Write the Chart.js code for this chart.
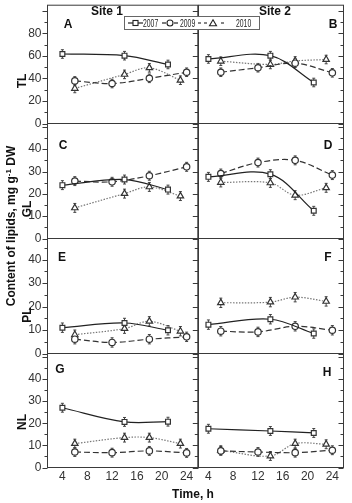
<!DOCTYPE html>
<html><head><meta charset="utf-8">
<script src="https://cdn.jsdelivr.net/npm/chart.js@4.4.1/dist/chart.umd.min.js"></script>
<style>
html,body{margin:0;padding:0;background:#fff;}
#wrap{position:relative;width:352px;height:503px;overflow:hidden;font-family:"Liberation Sans",Arial,sans-serif;}
canvas{position:absolute;}
.lbl{position:absolute;font-weight:bold;font-size:12px;color:#111;white-space:nowrap;line-height:1;z-index:4;}
.ctr{transform:translate(-50%,-50%);}
.rot{transform:translate(-50%,-50%) rotate(-90deg);}
#legend{position:absolute;left:124px;top:16px;width:134px;height:12px;border:1px solid #666;background:#fff;z-index:5;}
#legend svg{position:absolute;top:0;}
#legend span{position:absolute;top:0;font-family:"Liberation Sans",Arial,sans-serif;font-size:11px;line-height:12px;color:#222;transform:scaleX(0.62);transform-origin:left center;}
</style></head><body><div id="wrap">
<div class="lbl ctr" style="left:107px;top:11px">Site 1</div>
<div class="lbl ctr" style="left:275px;top:11px">Site 2</div>
<div class="lbl ctr" style="left:68px;top:24px">A</div>
<div class="lbl ctr" style="left:333px;top:24px">B</div>
<div class="lbl ctr" style="left:63px;top:145px">C</div>
<div class="lbl ctr" style="left:328px;top:145px">D</div>
<div class="lbl ctr" style="left:62px;top:257px">E</div>
<div class="lbl ctr" style="left:328px;top:257px">F</div>
<div class="lbl ctr" style="left:60px;top:369px">G</div>
<div class="lbl ctr" style="left:327px;top:372px">H</div>
<div class="lbl rot" style="left:22px;top:81px">TL</div>
<div class="lbl rot" style="left:27px;top:209px">GL</div>
<div class="lbl rot" style="left:27px;top:315px">PL</div>
<div class="lbl rot" style="left:22px;top:422px">NL</div>
<div class="lbl rot" style="left:11px;top:226px">Content of lipids, mg g<sup style="font-size:8px;vertical-align:4px">-1</sup> DW</div>
<div class="lbl ctr" style="left:193px;top:494px">Time, h</div>
<div id="legend">
 <svg style="left:3px" width="15" height="12"><line x1="0" y1="6" x2="15" y2="6" stroke="#222" stroke-width="1.2"/><rect x="5" y="3.5" width="5" height="5" fill="#fff" stroke="#222" stroke-width="1.1"/></svg>
 <span style="left:18px">2007</span>
 <svg style="left:36px" width="18" height="12"><line x1="1" y1="6" x2="5" y2="6" stroke="#222" stroke-width="1.2"/><line x1="13" y1="6" x2="17" y2="6" stroke="#222" stroke-width="1.2"/><circle cx="9" cy="6" r="3" fill="#fff" stroke="#222" stroke-width="1.1"/></svg>
 <span style="left:55px">2009</span>
 <svg style="left:72px" width="38" height="12"><line x1="1" y1="6" x2="4" y2="6" stroke="#333" stroke-width="1.2"/><line x1="7" y1="6" x2="10" y2="6" stroke="#333" stroke-width="1.2"/><polygon points="16,2.8 19.5,8.8 12.5,8.8" fill="#fff" stroke="#222" stroke-width="1.1"/><line x1="24" y1="6" x2="27" y2="6" stroke="#333" stroke-width="1.2"/></svg>
 <span style="left:111px">2010</span>
</div>
</div>
<script>
// sampling times (h)
const TIME_2007 = [4, 14, 21];
const TIME_2009 = [6, 12, 18, 24];
const TIME_2010 = [6, 14, 18, 23];

// Total lipids
const TL_S1_2007 = [61.7, 60.2, 52.4];
const TL_S1_2009 = [37.8, 35.5, 40.1, 45.5];
const TL_S1_2010 = [31.1, 43.6, 49.4, 38.4];
const TL_S2_2007 = [57.3, 60.2, 36.4];
const TL_S2_2009 = [45.5, 49.5, 53.5, 45.0];
const TL_S2_2010 = [55.3, 52.4, 55.5, 56.8];
// Glycolipids
const GL_S1_2007 = [23.9, 26.4, 21.9];
const GL_S1_2009 = [25.7, 25.4, 28.1, 32.1];
const GL_S1_2010 = [13.7, 20.1, 23.1, 19.0];
const GL_S2_2007 = [27.6, 28.8, 12.4];
const GL_S2_2009 = [29.1, 34.0, 35.0, 28.4];
const GL_S2_2010 = [25.1, 24.9, 19.4, 22.7];
// Phospholipids
const PL_S1_2007 = [11.0, 13.0, 9.9];
const PL_S1_2009 = [6.1, 4.7, 6.1, 7.1];
const PL_S1_2010 = [8.0, 10.6, 13.7, 9.5];
const PL_S2_2007 = [12.3, 14.6, 8.5];
const PL_S2_2009 = [9.5, 9.2, 11.6, 9.9];
const PL_S2_2010 = [21.6, 21.9, 24.0, 22.2];
// Neutral lipids
const NL_S1_2007 = [27.0, 20.6, 20.7];
const NL_S1_2009 = [7.0, 6.7, 7.5, 6.6];
const NL_S1_2010 = [10.8, 13.5, 13.5, 10.8];
const NL_S2_2007 = [17.5, 16.5, 15.6];
const NL_S2_2009 = [7.5, 7.0, 6.7, 7.8];
const NL_S2_2010 = [7.8, 5.2, 10.8, 10.5];

// error bar half-widths (mg/g DW) per lipid class
const ERR_TL = 3.8, ERR_GL = 2.0, ERR_PL = 2.0, ERR_NL = 2.0;

// axis ticks
const X_TICKS = [4, 8, 12, 16, 20, 24];
const Y_TICKS_TL = [0, 10, 20, 30, 40, 50, 60, 70, 80, 90, 100];
const Y_LABELS_TL = [0, 20, 40, 60, 80];
const Y_TICKS_SUB = [0, 5, 10, 15, 20, 25, 30, 35, 40, 45, 50];
const Y_LABELS_SUB = [0, 10, 20, 30, 40];
const YEARS = ['2007', '2009', '2010'];

const panels = [
  {row:0, col:0, data:[TL_S1_2007, TL_S1_2009, TL_S1_2010], err:ERR_TL, ymax:105, ticks:Y_TICKS_TL, labels:Y_LABELS_TL, major:20},
  {row:0, col:1, data:[TL_S2_2007, TL_S2_2009, TL_S2_2010], err:ERR_TL, ymax:105, ticks:Y_TICKS_TL, labels:Y_LABELS_TL, major:20},
  {row:1, col:0, data:[GL_S1_2007, GL_S1_2009, GL_S1_2010], err:ERR_GL, ymax:51.5, ticks:Y_TICKS_SUB, labels:Y_LABELS_SUB, major:10},
  {row:1, col:1, data:[GL_S2_2007, GL_S2_2009, GL_S2_2010], err:ERR_GL, ymax:51.5, ticks:Y_TICKS_SUB, labels:Y_LABELS_SUB, major:10},
  {row:2, col:0, data:[PL_S1_2007, PL_S1_2009, PL_S1_2010], err:ERR_PL, ymax:49, ticks:Y_TICKS_SUB, labels:Y_LABELS_SUB, major:10},
  {row:2, col:1, data:[PL_S2_2007, PL_S2_2009, PL_S2_2010], err:ERR_PL, ymax:49, ticks:Y_TICKS_SUB, labels:Y_LABELS_SUB, major:10},
  {row:3, col:0, data:[NL_S1_2007, NL_S1_2009, NL_S1_2010], err:ERR_NL, ymax:51.5, ticks:Y_TICKS_SUB, labels:Y_LABELS_SUB, major:10},
  {row:3, col:1, data:[NL_S2_2007, NL_S2_2009, NL_S2_2010], err:ERR_NL, ymax:51.5, ticks:Y_TICKS_SUB, labels:Y_LABELS_SUB, major:10},
];
const TIMES = [TIME_2007, TIME_2009, TIME_2010];

const COLX = [[47.5, 198.5], [198.5, 343.5]];
const ROWY = [[3.5, 123.5], [123.5, 238.5], [238.5, 353.5], [353.5, 467.5]];
const XRANGE = [[1.6, 25.8], [2.4, 25.8]];

const STYLES = [
  {borderColor:'#222', borderDash:[], pointStyle:'rect', pointRadius:3.4},
  {borderColor:'#333', borderDash:[6,3], pointStyle:'circle', pointRadius:3.2},
  {borderColor:'#777', borderDash:[1.5,1.5], pointStyle:'triangle', pointRadius:3.7},
];

const tickFont = {family:'"Liberation Sans Narrow","Liberation Sans",Arial,sans-serif', size:12};

const panelPlugin = {
  id:'panelDeco',
  beforeDatasetsDraw(chart) {
    const p = chart.options.plugins.panelDeco;
    const ctx = chart.ctx, xs = chart.scales.x, ys = chart.scales.y;
    ctx.save();
    ctx.strokeStyle = '#444'; ctx.lineWidth = 1; ctx.setLineDash([]);
    chart.data.datasets.forEach(ds => {
      ds.data.forEach(pt => {
        const x = xs.getPixelForValue(pt.x);
        const y1 = ys.getPixelForValue(pt.y - p.err), y2 = ys.getPixelForValue(pt.y + p.err);
        ctx.beginPath();
        ctx.moveTo(x, y1); ctx.lineTo(x, y2);
        ctx.moveTo(x - 1.5, y1); ctx.lineTo(x + 1.5, y1);
        ctx.moveTo(x - 1.5, y2); ctx.lineTo(x + 1.5, y2);
        ctx.stroke();
      });
    });
    ctx.restore();
  },
  afterDraw(chart) {
    const p = chart.options.plugins.panelDeco;
    const ctx = chart.ctx, a = chart.chartArea, ys = chart.scales.y;
    ctx.save();
    ctx.strokeStyle = '#3a3a3a'; ctx.lineWidth = 1; ctx.setLineDash([]);
    ctx.strokeRect(a.left, a.top, a.right - a.left, a.bottom - a.top);
    ctx.beginPath();
    p.ticks.forEach(v => {
      if (v > ys.max) return;
      const y = Math.round(ys.getPixelForValue(v)) + 0.5;
      const len = (v % p.major === 0) ? 5 : 3;
      ctx.moveTo(a.left - len, y); ctx.lineTo(a.left, y);
      ctx.moveTo(a.right - len, y); ctx.lineTo(a.right, y);
    });
    ctx.stroke();
    ctx.restore();
  }
};

const wrap = document.getElementById('wrap');
panels.forEach(p => {
  const cx = COLX[p.col], ry = ROWY[p.row];
  const cLeft = p.col === 0 ? 0 : 190;
  const cRight = p.col === 0 ? 203 : 352;
  const cTop = p.row === 0 ? 0 : Math.floor(ry[0]) - 5;
  const cBottom = p.row === 3 ? 503 : Math.ceil(ry[1]) + 5;
  const W = cRight - cLeft, H = cBottom - cTop;
  const cv = document.createElement('canvas');
  cv.width = W; cv.height = H;
  cv.style.left = cLeft + 'px'; cv.style.top = cTop + 'px';
  cv.style.width = W + 'px'; cv.style.height = H + 'px';
  wrap.appendChild(cv);
  const yAxisW = p.col === 0 ? cx[0] - cLeft : 0;
  const padLeft = p.col === 0 ? 0 : cx[0] - cLeft;
  const padRight = cRight - cx[1];
  const padTop = ry[0] - cTop;
  const xAxisH = p.row === 3 ? cBottom - ry[1] : 0;
  const padBottom = p.row === 3 ? 0 : cBottom - ry[1];

  const datasets = p.data.map((vals, k) => ({
    label: YEARS[k],
    data: vals.map((v, i) => ({x: TIMES[k][i], y: v})),
    borderColor: STYLES[k].borderColor,
    borderWidth: 1.2,
    borderDash: STYLES[k].borderDash,
    tension: 0.35,
    fill: false,
    pointStyle: STYLES[k].pointStyle,
    pointRadius: STYLES[k].pointRadius,
    pointBorderWidth: 1.2,
    pointBorderColor: '#333',
    pointBackgroundColor: '#fff',
    clip: false,
  }));

  new Chart(cv, {
    type: 'line',
    data: {datasets},
    plugins: [panelPlugin],
    options: {
      responsive: false, animation: false, devicePixelRatio: 1,
      layout: {padding: {left: padLeft, right: padRight, top: padTop, bottom: padBottom}},
      plugins: {legend: {display: false}, tooltip: {enabled: false},
        panelDeco: {err: p.err, ticks: p.ticks, major: p.major}},
      scales: {
        x: {
          type: 'linear', min: XRANGE[p.col][0], max: XRANGE[p.col][1],
          display: p.row === 3,
          grid: {display: false, drawTicks: false}, border: {display: false},
          afterBuildTicks: s => { s.ticks = X_TICKS.map(v => ({value: v})); },
          afterFit: s => { s.height = xAxisH; s.paddingLeft = 0; s.paddingRight = 0; s.paddingTop = 0; s.paddingBottom = 0; },
          ticks: {autoSkip: false, maxRotation: 0, padding: 2, color: '#333', font: tickFont,
            callback: v => String(v)}
        },
        y: {
          type: 'linear', min: 0, max: p.ymax,
          display: p.col === 0,
          grid: {display: false, drawTicks: false}, border: {display: false},
          afterBuildTicks: s => { s.ticks = p.ticks.filter(v => v <= p.ymax).map(v => ({value: v})); },
          afterFit: s => { s.width = yAxisW; s.paddingTop = 0; s.paddingBottom = 0; s.paddingLeft = 0; s.paddingRight = 0; },
          ticks: {autoSkip: false, padding: 6, color: '#333', font: tickFont,
            callback: v => p.labels.includes(v) ? String(v) : ''}
        }
      }
    }
  });
});
</script>
</body></html>
